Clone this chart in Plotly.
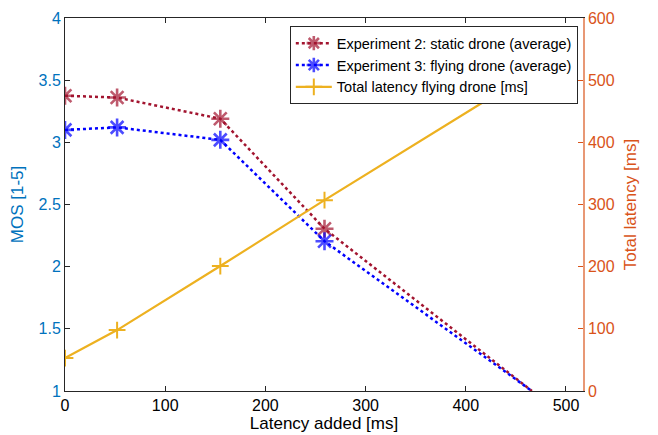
import plotly.graph_objects as go

latency_added = [0, 52, 155, 259, 466]
mos_static = [3.375, 3.36, 3.19, 2.305, 1.0]
mos_flying = [3.10, 3.12, 3.02, 2.205, 1.0]
total_latency = [53, 98, 201, 307, 513]

name_static = "Experiment 2: static drone (average)"
name_flying = "Experiment 3: flying drone (average)"
name_total = "Total latency flying drone [ms]"

RED = "#A2142F"
BLUE = "#0000FF"
YEL = "#EDB120"
LBLUE = "#0072BD"
ORANGE = "#D95319"
FONT = "Liberation Sans, Arial, sans-serif"

star_sizes = [15, 15, 15, 15, 0]

fig = go.Figure()
fig.add_trace(go.Scatter(
    x=latency_added, y=total_latency, name=name_total, yaxis="y2",
    mode="lines+markers",
    line=dict(color=YEL, width=2.2),
    marker=dict(symbol="cross-thin-open", size=12, line=dict(color=YEL, width=2)),
    legendrank=3,
))
fig.add_trace(go.Scatter(
    x=latency_added, y=mos_static, name=name_static,
    mode="lines+markers",
    line=dict(color=RED, width=2.5, dash="dot"),
    marker=dict(symbol="asterisk-open", size=star_sizes, line=dict(color=RED, width=2.6)),
    legendrank=1,
))
fig.add_trace(go.Scatter(
    x=latency_added, y=mos_flying, name=name_flying,
    mode="lines+markers",
    line=dict(color=BLUE, width=2.5, dash="dot"),
    marker=dict(symbol="asterisk-open", size=star_sizes, line=dict(color=BLUE, width=2.6)),
    legendrank=2,
))

fig.update_layout(
    width=658, height=435,
    margin=dict(l=65, r=75, t=18, b=44, autoexpand=False),
    paper_bgcolor="white", plot_bgcolor="white",
    font=dict(family=FONT, size=14, color="#262626"),
    showlegend=True,
    legend=dict(
        x=0.99, y=0.978, xanchor="right", yanchor="top",
        bgcolor="white", bordercolor="#262626", borderwidth=1,
        font=dict(size=14.5, color="#000000"),
        tracegroupgap=0, itemwidth=36,
    ),
    xaxis=dict(
        range=[0, 517], tickvals=[0, 100, 200, 300, 400, 500],
        showline=True, linecolor="#262626", linewidth=1, mirror="ticks",
        ticks="inside", ticklen=5, tickcolor="#262626",
        showgrid=False, zeroline=False, automargin=False,
        tickfont=dict(size=16, color="#000000"),
        title=dict(text="Latency added [ms]", font=dict(size=17, color="#000000"), standoff=0),
    ),
    yaxis=dict(
        range=[1, 4], dtick=0.5,
        showline=True, linecolor="#262626", linewidth=1,
        ticks="inside", ticklen=5, tickcolor="#262626",
        showgrid=False, zeroline=False, automargin=False,
        tickfont=dict(size=16, color=LBLUE),
        title=dict(text="MOS [1-5]", font=dict(size=17, color=LBLUE), standoff=10),
    ),
    yaxis2=dict(
        range=[0, 600], dtick=100, overlaying="y", side="right",
        showline=True, linecolor="rgba(217,83,25,0.6)", linewidth=1.5,
        ticks="inside", ticklen=5, tickcolor=ORANGE,
        showgrid=False, zeroline=False, automargin=False,
        tickfont=dict(size=16, color=ORANGE),
        title=dict(text="Total latency [ms]", font=dict(size=17, color=ORANGE), standoff=10),
    ),
)

fig.write_html("out.html", config={"displayModeBar": False},
               post_script="document.body.style.margin='0';")
